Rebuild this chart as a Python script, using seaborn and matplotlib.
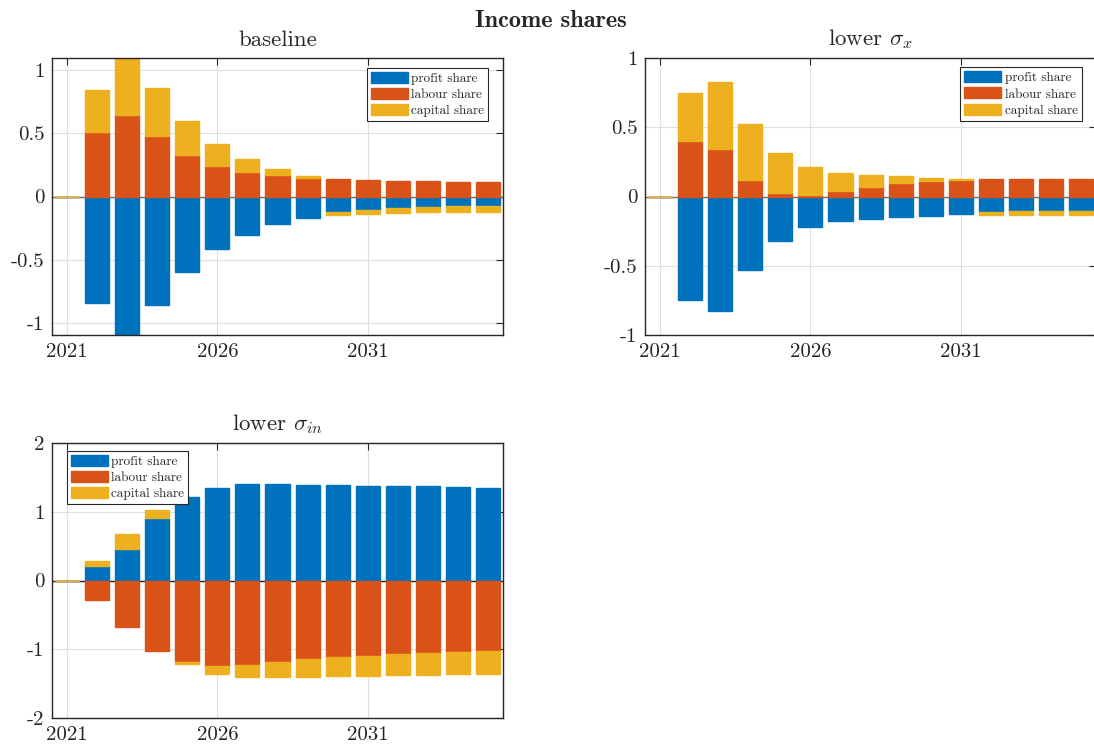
import numpy as np
import pandas as pd
import matplotlib
matplotlib.use("Agg")
import matplotlib.pyplot as plt
from matplotlib.patches import Patch
from matplotlib.ticker import FuncFormatter
import seaborn as sns

# ---- data -------------------------------------------------------------
years = list(range(2021, 2036))
series_names = ["profit share", "labour share", "capital share"]

baseline_profit = [0, -0.842, -1.092, -0.853, -0.597, -0.416, -0.300, -0.218,
                   -0.166, -0.124, -0.105, -0.092, -0.082, -0.076, -0.074]
baseline_labour = [0, 0.505, 0.645, 0.479, 0.329, 0.242, 0.195, 0.166,
                   0.145, 0.139, 0.132, 0.126, 0.124, 0.118, 0.116]
baseline_capital = [0, 0.334, 0.447, 0.374, 0.263, 0.174, 0.102, 0.050,
                    0.018, -0.018, -0.029, -0.037, -0.042, -0.045, -0.044]

low_x_profit = [0, -0.747, -0.829, -0.528, -0.318, -0.217, -0.176, -0.159,
                -0.147, -0.137, -0.128, -0.113, -0.108, -0.104, -0.101]
low_x_labour = [0, 0.402, 0.345, 0.123, 0.022, 0.014, 0.041, 0.072,
                0.096, 0.111, 0.116, 0.128, 0.130, 0.130, 0.130]
low_x_capital = [0, 0.345, 0.482, 0.402, 0.294, 0.200, 0.132, 0.082,
                 0.049, 0.024, 0.009, -0.017, -0.024, -0.029, -0.032]

low_in_profit = [0, 0.213, 0.459, 0.908, 1.208, 1.348, 1.396, 1.401,
                 1.391, 1.382, 1.377, 1.372, 1.367, 1.357, 1.348]
low_in_labour = [0, -0.285, -0.681, -1.024, -1.188, -1.237, -1.227, -1.184,
                 -1.140, -1.111, -1.092, -1.072, -1.053, -1.039, -1.024]
low_in_capital = [0, 0.068, 0.222, 0.116, -0.020, -0.116, -0.169, -0.217,
                  -0.256, -0.275, -0.290, -0.300, -0.314, -0.323, -0.329]

panel_titles = ["baseline", r"lower $\sigma_x$", r"lower $\sigma_{in}$"]
x_ticks = [2021, 2026, 2031]

# ---- style ------------------------------------------------------------
sns.set_theme(style="whitegrid")
plt.rcParams.update({
    "font.family": ["cmr10"],
    "mathtext.fontset": "cm",
    "axes.unicode_minus": False,
    "axes.edgecolor": "#262626",
    "axes.linewidth": 1.0,
    "grid.color": "#dfdfdf",
    "grid.linewidth": 0.8,
    "xtick.color": "#262626",
    "ytick.color": "#262626",
})
colors = ["#0072BD", "#D95319", "#EDB120"]


def stacked_frame(columns):
    """Split each series into a positive and a negative stack."""
    vals = np.array(columns, dtype=float)
    pos = np.zeros(vals.shape[1])
    neg = np.zeros(vals.shape[1])
    frames = []
    for name, row in zip(series_names, vals):
        bottom = np.where(row >= 0, pos, neg)
        pos = pos + np.clip(row, 0, None)
        neg = neg + np.clip(row, None, 0)
        frames.append(pd.DataFrame({"year": years, "value": row,
                                    "bottom": bottom, "series": name}))
    return frames


def draw_panel(ax, columns, title, ylim, yticks, legend_loc, legend_anchor,
               base_color):
    for frame, col in zip(stacked_frame(columns), colors):
        sns.barplot(data=frame, x="year", y="value", native_scale=True,
                    bottom=frame["bottom"].to_numpy(), width=0.8,
                    color=col, edgecolor=col, linewidth=1.0,
                    saturation=1, errorbar=None, ax=ax)
    # bar baseline sits under the bars, above the grid
    ax.axhline(0, color=base_color, linewidth=1.0, zorder=0.9)
    ax.set_xlim(2020.5, 2035.5)
    ax.set_ylim(*ylim)
    ax.set_xticks(x_ticks)
    ax.set_yticks(yticks)
    ax.yaxis.set_major_formatter(FuncFormatter(lambda v, p: f"{v:g}"))
    ax.xaxis.set_major_formatter(FuncFormatter(lambda v, p: f"{v:.0f}"))
    ax.set_xlabel("")
    ax.set_ylabel("")
    ax.grid(True, which="major", axis="both")
    ax.set_axisbelow(True)
    ax.tick_params(direction="in", length=5, width=0.8, top=True, right=True,
                   labelsize=15, pad=5.5)
    for sp in ax.spines.values():
        sp.set_visible(True)
        sp.set_color("#262626")
        sp.set_linewidth(1.0)
    ax.set_title(title, fontsize=16.5, pad=9)
    handles = [Patch(facecolor=c, edgecolor=c, label=n)
               for c, n in zip(colors, series_names)]
    leg = ax.legend(handles=handles, loc=legend_loc,
                    bbox_to_anchor=legend_anchor, borderaxespad=0,
                    fontsize=9.5, handlelength=2.8, handleheight=0.9,
                    handletextpad=0.25, labelspacing=0.25, borderpad=0.3,
                    fancybox=False, framealpha=1, edgecolor="#262626")
    leg.get_frame().set_linewidth(0.8)


fig = plt.figure(figsize=(10.94, 7.51), dpi=100)
ax_tl = fig.add_axes([0.0475, 0.5539, 0.4123, 0.3688])
ax_tr = fig.add_axes([0.5896, 0.5539, 0.4123, 0.3688])
ax_bl = fig.add_axes([0.0475, 0.0435, 0.4123, 0.3670])

draw_panel(ax_tl, [baseline_profit, baseline_labour, baseline_capital],
           panel_titles[0], (-1.092, 1.092), [-1, -0.5, 0, 0.5, 1],
           "upper right", (0.967, 0.965), "#6e6e6e")
draw_panel(ax_tr, [low_x_profit, low_x_labour, low_x_capital],
           panel_titles[1], (-1, 1), [-1, -0.5, 0, 0.5, 1],
           "upper right", (0.968, 0.967), "#6e6e6e")
draw_panel(ax_bl, [low_in_profit, low_in_labour, low_in_capital],
           panel_titles[2], (-2, 2), [-2, -1, 0, 1, 2],
           "upper left", (0.033, 0.971), "#1f1f1f")

fig.text(0.5037, 0.9645, "Income shares", ha="center", va="baseline",
         fontsize=17.5, family=["cmb10"])

fig.savefig("out.png", dpi=100)
